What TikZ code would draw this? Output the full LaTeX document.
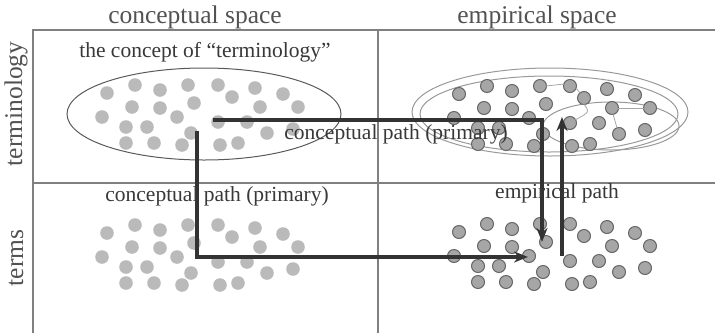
\documentclass[tikz,border=0pt]{standalone}
\usepackage{fontspec}
\setmainfont{Liberation Serif}
\usetikzlibrary{arrows.meta}
\begin{document}
\begin{tikzpicture}[x=1pt,y=-1pt,
  frame/.style={draw=black!50, line width=1.4pt},
  cdot/.style={fill=black!27},
  edot/.style={fill=black!35, draw=black!60, line width=1pt},
  patharrow/.style={draw=black!80, line width=3.6pt, -{Stealth[length=14pt,width=11pt]}},
  head/.style={font=\fontsize{25.5}{28}\selectfont, text=black!68, inner sep=0pt},
  lbl/.style={font=\fontsize{21.5}{24}\selectfont, text=black!78, inner sep=0pt},
  cline/.style={draw=black!65, line width=1pt},
  eline/.style={draw=black!40, line width=1pt},
  thinline/.style={draw=black!35, line width=0.8pt}
]
\useasboundingbox (0,0) rectangle (715,333);
\def\dotlist{(107,93),(135,85),(160,90),(188,85),(218,85),(255,88),(283,94),
(132,107),(160,108),(194,103),(232,97),(260,107),(298,107),
(102,117),(177,117),(126,127),(147,127),(218,122),(247,122),
(191,133),(267,133),(293,129),(126,143),(154,143),(182,145),(220,145),(238,143)}

% frame
\draw[frame] (715,30) -- (33,30) -- (33,333);
\draw[frame] (378,30) -- (378,333);
\draw[frame] (33,183) -- (715,183);

% ellipses
\draw[cline] (204,114) ellipse [x radius=137pt, y radius=46pt];
\draw[eline] (550,112) ellipse [x radius=138pt, y radius=44pt];
\draw[eline] (549,114) ellipse [x radius=129pt, y radius=38pt];
\draw[eline] (611,126) ellipse [x radius=68pt, y radius=24pt];

% dots
\foreach \p in \dotlist { \fill[cdot] \p circle[radius=6.8pt]; }
\begin{scope}[shift={(0,140)}]
\foreach \p in \dotlist { \fill[cdot] \p circle[radius=6.8pt]; }
\end{scope}
\begin{scope}[shift={(352,1)}]
\foreach \p in \dotlist { \filldraw[edot] \p circle[radius=6.5pt]; }
\end{scope}
\begin{scope}[shift={(352,139)}]
\foreach \p in \dotlist { \filldraw[edot] \p circle[radius=6.5pt]; }
\end{scope}

% thin links among empirical dots
\draw[thinline] (546,86) -- (564,84);
\draw[thinline] (576,88) -- (580,93);
\draw[thinline] (618,108) -- (644,108);
\draw[thinline] (613,114) -- (617,128);
\draw[thinline] (583,103) .. controls (590,112) .. (575,120);

% paths
\coordinate (p1s) at (213,120);
\coordinate (p1c) at (542,120);
\coordinate (p1e) at (542,242);
\draw[patharrow] (p1s) -- (p1c) -- (p1e);
\coordinate (p2s) at (197,131);
\coordinate (p2c) at (197,257);
\coordinate (p2e) at (528,257);
\draw[patharrow] (p2s) -- (p2c) -- (p2e);
\coordinate (p3s) at (562,256);
\coordinate (p3e) at (562,117);
\draw[patharrow] (p3s) -- (p3e);

% labels
\node[head] (cs) at (195,17) {conceptual space};
\node[head] (es) at (537,17) {empirical space};
\node[head, rotate=90] (tl) at (16,104) {terminology};
\node[head, rotate=90] (tm) at (16,258) {terms};
\node[lbl] (ct) at (205,52) {the concept of “terminology”};
\node[lbl] (cp1) at (396,134) {conceptual path (primary)};
\node[lbl] (cp2) at (217,196) {conceptual path (primary)};
\node[lbl] (ep) at (557,193) {empirical path};
\end{tikzpicture}
\end{document}
